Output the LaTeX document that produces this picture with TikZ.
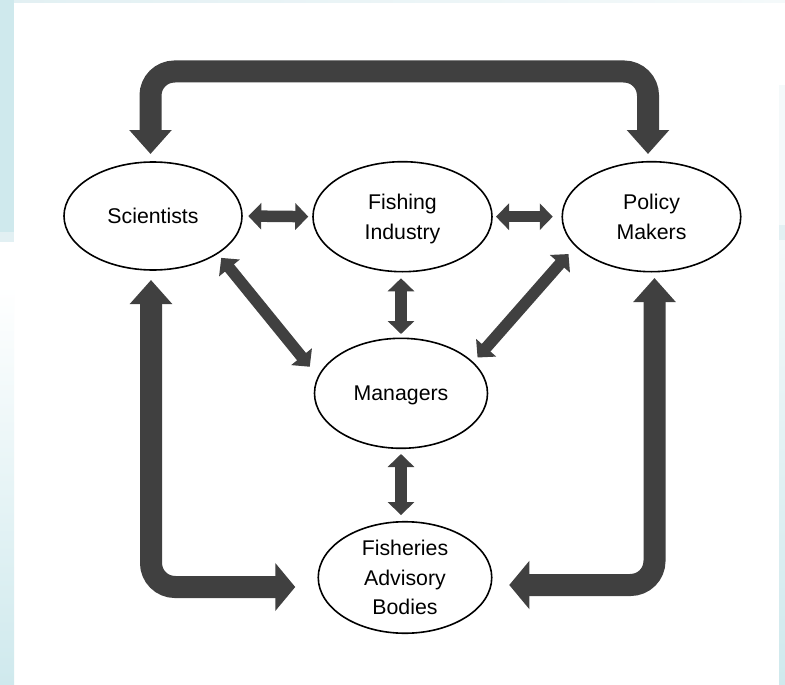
\documentclass[tikz,border=0pt]{standalone}
\usepackage{fontspec}
\setmainfont{Liberation Sans}
\usetikzlibrary{shapes.geometric,arrows.meta}
\definecolor{arrowgray}{HTML}{404040}
\definecolor{tealtint}{HTML}{CFE9ED}
\definecolor{tealpale}{HTML}{E2F0F3}
\definecolor{tealfaint}{HTML}{F4F9FA}
\begin{document}
\begin{tikzpicture}[x=1pt,y=-1pt,
  actor/.style={ellipse, draw=black, line width=1.6pt, inner sep=0pt, outer sep=0pt,
    align=center, text depth=0pt, font=\fontsize{21.3}{29.5}\selectfont},
  link/.style={draw=arrowgray, line width=11.5pt,
    {Triangle[width=26pt,length=13pt]}-{Triangle[width=26pt,length=13pt]}},
  loop/.style={draw=arrowgray, line width=22pt, rounded corners=24pt},
  uptip/.style={{Triangle[width=41pt,length=24pt]}-{Triangle[width=41pt,length=24pt]}},
  sidetip/.style={{Triangle[width=41pt,length=24pt]}-{Triangle[width=47pt,length=20pt]}},
]
\useasboundingbox (0,0) rectangle (785,685);

% slide background
\fill[white] (0,0) rectangle (785,685);
\shade[left color=tealpale, right color=tealfaint] (0,0) rectangle (785,3);
\fill[tealtint] (0,0) rectangle (14,232);
\fill[tealpale] (0,232) rectangle (14,242);
\shade[top color=white, bottom color=tealtint] (0,285) rectangle (14,685);
\fill[tealfaint] (779,85) rectangle (785,225);
\fill[tealpale] (779,225) rectangle (785,240);
\shade[top color=tealfaint, bottom color=tealtint] (779,240) rectangle (785,685);

% stakeholders
\node[actor, minimum width=178pt, minimum height=108pt] (sci) at (153,216) {Scientists};
\node[actor, minimum width=179pt, minimum height=110pt] (fish) at (402.5,216.7) {Fishing\\Industry};
\node[actor, minimum width=178.5pt, minimum height=110pt] (pol) at (651.5,216.7) {Policy\\Makers};
\node[actor, minimum width=173pt, minimum height=110pt] (man) at (401,393.3) {Managers};
\node[actor, minimum width=173.5pt, minimum height=111.5pt] (fab) at (405,577.5) {Fisheries\\Advisory\\Bodies};

% two-way links between neighbours
\draw[link, shorten <=6.3pt, shorten >=4.7pt] (sci.east) -- (fish.west);
\draw[link, shorten <=4pt, shorten >=9.5pt] (fish.east) -- (pol.west);
\draw[link, shorten <=6.6pt, shorten >=4.3pt] (fish.south -| man) -- (man.north);
\draw[link, shorten <=5.7pt, shorten >=6.7pt] (man.south) -- (man.south |- fab.north);
\draw[link, shorten <=6pt, shorten >=13.5pt] (sci.-30.5) -- (man.169.4);
\draw[link, shorten <=11pt, shorten >=7pt] (pol.-159.1) -- (man.23.3);

% wide feedback loops
\coordinate (topbar) at (400,71.5);
\draw[loop, uptip, shorten <=8pt, shorten >=7.7pt]
  ([xshift=-2.5pt]sci.north) |- (topbar) -| ([xshift=-3.5pt]pol.north);
\draw[loop, sidetip, shorten <=10pt, shorten >=23pt]
  ([xshift=-2pt]sci.south) |- ([yshift=-9.5pt]fab.west);
\draw[loop, sidetip, shorten <=6.3pt, shorten >=17.5pt]
  ([xshift=3pt]pol.south) |- ([yshift=-7.5pt]fab.east);
\end{tikzpicture}
\end{document}
